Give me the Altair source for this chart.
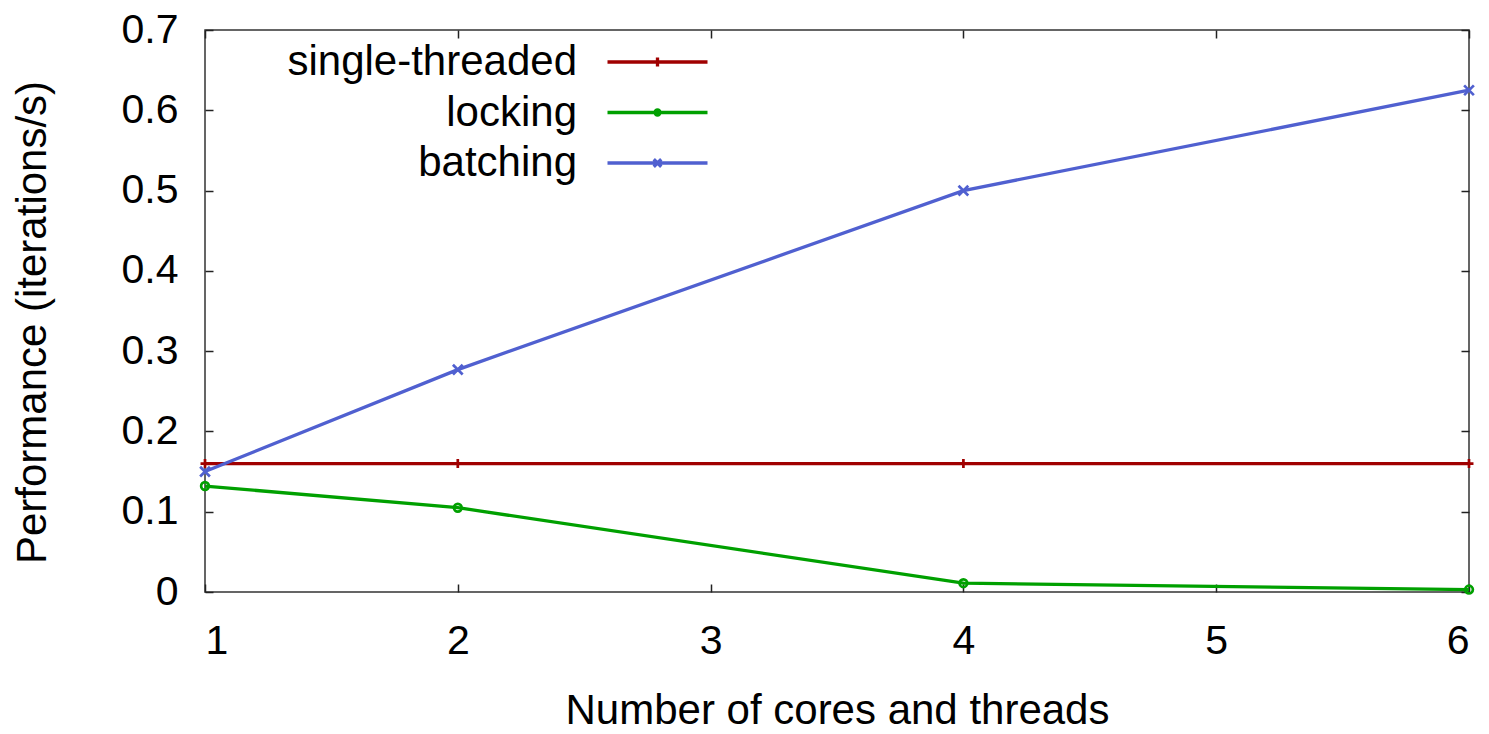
import altair as alt
import pandas as pd

cores = [1, 2, 4, 6]
series_names = ["single-threaded", "locking", "batching"]
single_threaded = [0.16, 0.16, 0.16, 0.16]
locking = [0.132, 0.105, 0.011, 0.003]
batching = [0.15, 0.277, 0.5, 0.625]
colors = ["#A00000", "#00A000", "#5060D0"]
x_ticks = [1, 2, 3, 4, 5, 6]
y_ticks = [0, 0.1, 0.2, 0.3, 0.4, 0.5, 0.6, 0.7]

rows = []
for name, vals in zip(series_names, [single_threaded, locking, batching]):
    for c, v in zip(cores, vals):
        rows.append({"cores": c, "perf": v, "series": name})
df = pd.DataFrame(rows)

FONT = "Liberation Sans"
W, H = 1264, 562
LEFT, TOP = 205, 30

# marker shapes for data points
marker_paths = {
    "single-threaded": ("M0,-1V1M-1,0H1", 80),
    "locking": ("circle", 60),
    "batching": ("M-1,-1L1,1M-1,1L1,-1", 95),
}

# legend symbols: line + marker
leg_red = "M-4,0H4M0,-0.36V0.36"
leg_green = "M-4,0H4M0.2,0A0.2,0.2,0,1,1,-0.2,0A0.2,0.2,0,1,1,0.2,0"
leg_blue = "M-4,0H4M-0.3,-0.3L0.3,0.3M-0.3,0.3L0.3,-0.3"
sym_expr = (
    f"datum.value === 'locking' ? '{leg_green}' : "
    f"datum.value === 'batching' ? '{leg_blue}' : '{leg_red}'"
)

xscale = alt.Scale(domain=[1, 6], nice=False, zero=False)
yscale = alt.Scale(domain=[0, 0.7], nice=False)
cscale = alt.Scale(domain=series_names, range=colors)

base = alt.Chart(df)

lines = base.mark_line(strokeWidth=3.3).encode(
    x=alt.X("cores:Q", scale=xscale, axis=alt.Axis(
        values=x_ticks, format="d", ticks=False, domain=False, grid=False,
        labelFontSize=41, labelFont=FONT, labelColor="black", labelPadding=29,
        title="Number of cores and threads", titleFontSize=42, titleFont=FONT,
        titleFontWeight="normal", titleColor="black", titleY=131,
        titleBaseline="alphabetic", labelOverlap=False)),
    y=alt.Y("perf:Q", scale=yscale, axis=alt.Axis(
        values=y_ticks, format=".1~f", ticks=False, domain=False, grid=False,
        labelFontSize=41, labelFont=FONT, labelColor="black", labelPadding=27,
        title="Performance (iterations/s)", titleFontSize=42, titleFont=FONT,
        titleFontWeight="normal", titleColor="black", titleX=-173, titleY=292,
        titleBaseline="middle", labelOverlap=False)),
    color=alt.Color("series:N", scale=cscale, legend=alt.Legend(
        title=None, orient="none", legendX=431.5, legendY=11, padding=0,
        labelFontSize=42, labelFont=FONT, labelColor="black", labelAlign="right",
        labelOffset=alt.ExprRef(expr="-101.5"), labelLimit=1000,
        symbolType=alt.ExprRef(expr=sym_expr),
        symbolSize=625, symbolStrokeWidth=3.3, rowPadding=8.5)),
    order=alt.Order("cores:Q"),
)

tick_kw = dict(offset=alt.ExprRef(expr="-8"), tickSize=8, tickWidth=1.5, tickColor="#222",
               labels=False, domain=False, grid=False, title=None)

point_layers = []
for i, name in enumerate(series_names):
    shape, size = marker_paths[name]
    enc = dict(
        color=alt.Color("series:N", scale=cscale, legend=None),
    )
    if i == 0:
        enc["x"] = alt.X("cores:Q", scale=xscale, axis=alt.Axis(orient="bottom", values=x_ticks, **tick_kw))
        enc["y"] = alt.Y("perf:Q", scale=yscale, axis=alt.Axis(orient="left", values=y_ticks, **tick_kw))
    elif i == 1:
        enc["x"] = alt.X("cores:Q", scale=xscale, axis=alt.Axis(orient="top", values=x_ticks, **tick_kw))
        enc["y"] = alt.Y("perf:Q", scale=yscale, axis=alt.Axis(orient="right", values=y_ticks, **tick_kw))
    else:
        enc["x"] = alt.X("cores:Q", scale=xscale, axis=None)
        enc["y"] = alt.Y("perf:Q", scale=yscale, axis=None)
    point_layers.append(
        base.transform_filter(alt.datum.series == name)
        .mark_point(shape=shape, size=size, filled=False, strokeWidth=2.7, opacity=1)
        .encode(**enc)
    )

chart = alt.layer(lines, *point_layers).resolve_axis(
    x="independent", y="independent"
).properties(
    width=W, height=H,
    autosize=alt.AutoSizeParams(type="none"),
    padding={"left": LEFT, "top": TOP, "right": 1489 - LEFT - W, "bottom": 734 - TOP - H},
    background="white",
).configure_view(
    stroke="#333", strokeWidth=1.5
)

chart.save("out.html", embed_options={"renderer": "svg", "actions": False})
